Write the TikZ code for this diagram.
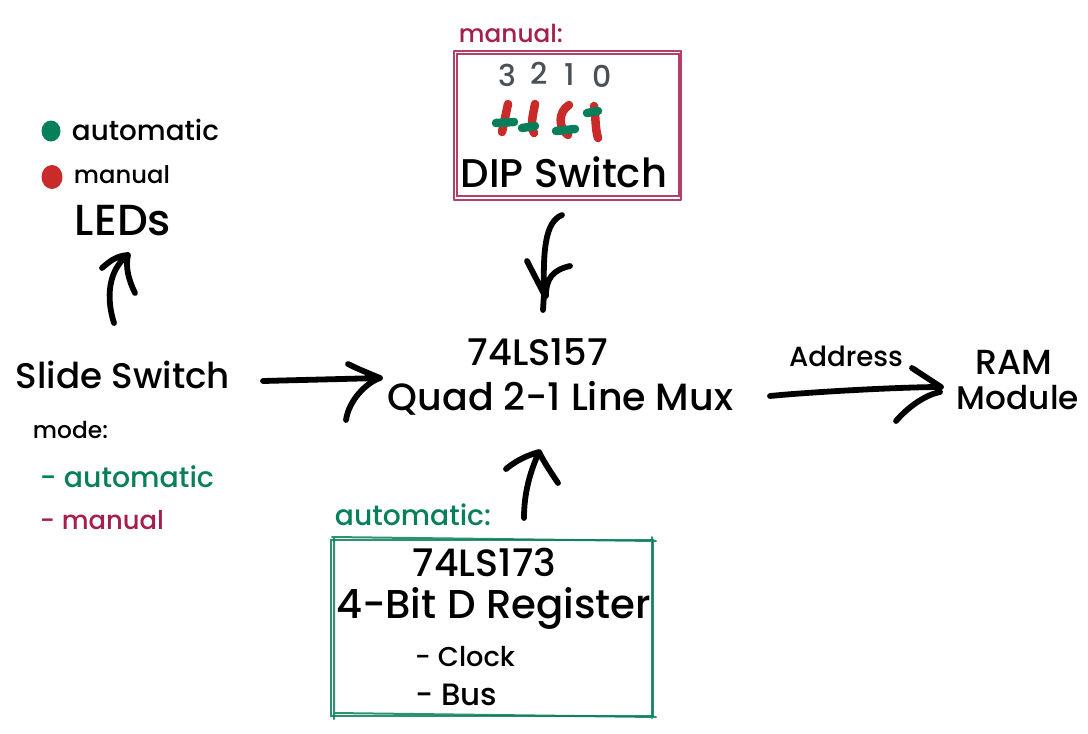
\documentclass[tikz,border=0pt]{standalone}
\usepackage{fontspec}
\usepackage{graphicx}
\setmainfont{Poppins Medium}
\definecolor{exgreen}{HTML}{087F5B}
\definecolor{exred}{HTML}{C92A2A}
\definecolor{expink}{HTML}{A61E4D}
\definecolor{exgray}{HTML}{495057}
\newcommand{\tw}[2]{\resizebox{#1pt}{!}{#2}}
\tikzset{
  lbl/.style={inner sep=0pt,outer sep=0pt,text=black},
  digit/.style={inner sep=0pt,outer sep=0pt,text=exgray,font=\fontsize{30}{30}\selectfont},
  conn/.style={draw=black,line width=5.8pt,line cap=round,line join=round},
  sw/.style={line width=8.5pt,line cap=round,draw=exred},
  swgreen/.style={line width=8.5pt,line cap=round,draw=exgreen},
  frame/.style={line width=2pt,line cap=round,opacity=.85},
  boxn/.style={rectangle,inner sep=0pt,outer sep=0pt,line width=2pt}
}
\begin{document}
\begin{tikzpicture}[x=1pt,y=-1pt]
\useasboundingbox (0,0) rectangle (1088,734);
% DIP switch group
\node[lbl,text=expink] (manuallabel) at (511,33) {\tw{104}{manual:}};
\node[boxn,draw=expink,opacity=.85,minimum width=222pt,minimum height=142pt] (dipbox) at (568,125) {};
\draw[frame,draw=expink] ([shift={(-3,-3)}]dipbox.north west) -- ([shift={(2,-3)}]dipbox.north east)
  ([shift={(-3,-3)}]dipbox.north west) -- ([shift={(-3,4)}]dipbox.south west)
  ([shift={(-3,4)}]dipbox.south west) -- ([shift={(2,4)}]dipbox.south east)
  ([shift={(2,-3)}]dipbox.north east) -- ([shift={(2,4)}]dipbox.south east);
\node[digit] (b3) at (507,75) {3};
\node[digit] (b2) at (539,73) {2};
\node[digit] (b1) at (570,75) {1};
\node[digit] (b0) at (602,76) {0};
\draw[sw] (508,104) -- (502,132);
\draw[sw] (535,104) .. controls (533,115) and (530,125) .. (534,133);
\draw[sw] (569,105) .. controls (558,112) and (558,128) .. (568,135);
\draw[sw] (594,106) .. controls (596,118) and (595,128) .. (598,138);
\draw[swgreen] (496,123) -- (514,122);
\draw[swgreen] (522,128) -- (535,126);
\draw[swgreen] (556,131) -- (575,129);
\draw[swgreen] (587,113) -- (598,111);
\node[lbl] (dip) at (564,172) {\tw{206}{DIP Switch}};
% LEDs
\fill[exgreen] (51,131) ellipse [x radius=9.5pt,y radius=10.5pt];
\fill[exred] (52,177) ellipse [x radius=10.5pt,y radius=12pt];
\node[lbl] (legauto) at (145.5,130) {\tw{147}{automatic}};
\node[lbl] (legman) at (122,175) {\tw{96}{manual}};
\node[lbl] (leds) at (123,221) {\tw{96}{LEDs}};
% Slide switch
\node[lbl] (slide) at (123,375) {\tw{214}{Slide Switch}};
\node[lbl] (mode) at (70.5,430) {\tw{75}{mode:}};
\node[lbl,text=exgreen] (mauto) at (127,477) {\tw{174}{- automatic}};
\node[lbl,text=expink] (mman) at (102,520) {\tw{124}{- manual}};
% Mux
\node[lbl] (muxnum) at (538,352) {\tw{140}{74LS157}};
\node[lbl] (mux) at (560.5,398) {\tw{345}{Quad 2-1 Line Mux}};
% RAM
\node[lbl] (addr) at (846,356) {\tw{114}{Address}};
\node[lbl] (ram) at (1013.5,362) {\tw{77}{RAM}};
\node[lbl] (module) at (1018,398) {\tw{122}{Module}};
% Register group
\node[lbl,text=exgreen] (autolabel) at (413,515) {\tw{156}{automatic:}};
\node[boxn,draw=exgreen,opacity=.85,minimum width=322pt,minimum height=176pt] (regbox) at (492,628) {};
\draw[frame,draw=exgreen] ([shift={(1,-3)}]regbox.north west) -- ([shift={(3,1)}]regbox.north east)
  ([shift={(3,-2)}]regbox.north west) -- ([shift={(3,3)}]regbox.south west)
  ([shift={(3,-3)}]regbox.south west) -- ([shift={(3,1)}]regbox.south east)
  ([shift={(-1,-3)}]regbox.north east) -- ([shift={(-1,2)}]regbox.south east);
\node[lbl] (regnum) at (484.5,562) {\tw{143}{74LS173}};
\node[lbl] (reg) at (493.5,608) {\tw{315}{4-Bit D Register}};
\node[lbl] (clock) at (465,657) {\tw{100}{- Clock}};
\node[lbl] (bus) at (456,695) {\tw{82}{- Bus}};
% Connector ends
\coordinate (ledtip) at ([shift={(5,34)}]leds.center);
\coordinate (muxtop) at ([shift={(6,-58)}]muxnum.center);
\coordinate (muxbot) at ([shift={(-21.5,54)}]mux.center);
\coordinate (muxleft) at ([shift={(-180.5,-20)}]mux.center);
\coordinate (ramleft) at ([shift={(-77,-11)}]module.center);
% Connectors
\draw[conn] ([shift={(-9,-52)}]slide.center) .. controls +(-8,-25) and +(-20,15) .. (ledtip)
  ([shift={(-26,13)}]ledtip) .. controls +(8,-7) and +(-12,1) .. (ledtip)
  .. controls +(-3,12) and +(-6,-12) .. ([shift={(7,38)}]ledtip);
\draw[conn] ([shift={(-2,43)}]dip.center) .. controls +(-17,7) and +(-1,-44) .. (muxtop)
  -- ++(-1,16)
  ([shift={(-17,-33)}]muxtop) -- (muxtop)
  ([shift={(26,-28)}]muxtop) .. controls +(-17,4) and +(0,-18) .. ([shift={(2,2)}]muxtop);
\draw[conn] ([shift={(39.5,-44)}]regnum.center) .. controls +(0,-25) and +(-9,20) .. (muxbot)
  ([shift={(-33,17)}]muxbot) .. controls +(12,-10) and +(-10,3) .. (muxbot)
  .. controls +(5,10) and +(-8,-12) .. ([shift={(19,31)}]muxbot);
\draw[conn] ([shift={(140,6)}]slide.center) -- (muxleft)
  ([shift={(-32,-14)}]muxleft) .. controls +(10,5) and +(-12,-5) .. (muxleft)
  ([shift={(-34,42)}]muxleft) .. controls +(3,-20) and +(-14,5) .. (muxleft);
\draw[conn] ([shift={(209.5,-2)}]mux.center) .. controls +(40,-4) and +(-40,0) .. (ramleft)
  ([shift={(-29,-19)}]ramleft) -- (ramleft)
  ([shift={(-45,34)}]ramleft) .. controls +(12,-14) and +(-15,3) .. ([shift={(-1,5)}]ramleft);
\end{tikzpicture}
\end{document}
